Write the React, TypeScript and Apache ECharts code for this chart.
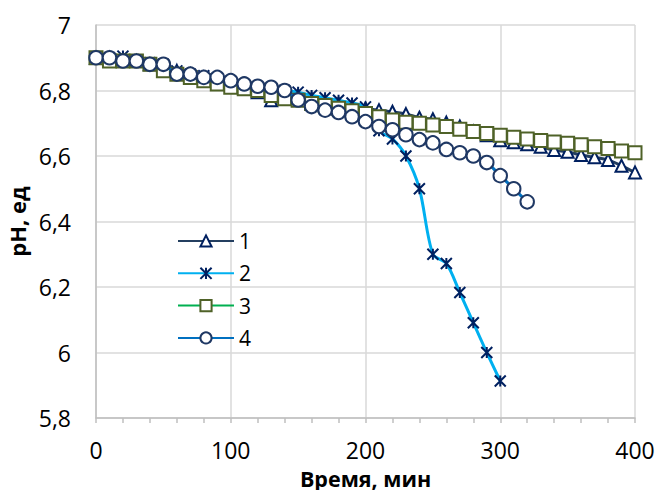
import React, { useEffect, useRef } from "react";
import * as echarts from "echarts";

const seriesNames = ["1", "2", "3", "4"];

const times1 = [0,10,20,30,40,50,60,70,80,90,100,110,120,130,140,150,160,170,180,190,200,210,220,230,240,250,260,270,280,290,300,310,320,330,340,350,360,370,380,390,400];
const ph1 = [6.9,6.9,6.895,6.89,6.88,6.875,6.86,6.85,6.84,6.83,6.82,6.81,6.795,6.77,6.775,6.785,6.775,6.768,6.76,6.752,6.745,6.74,6.735,6.728,6.717,6.712,6.702,6.69,6.675,6.663,6.648,6.642,6.636,6.628,6.618,6.613,6.603,6.596,6.588,6.57,6.55];

const times2 = [0,10,20,30,40,50,60,70,80,90,100,110,120,130,140,150,160,170,180,190,200,210,220,230,240,250,260,270,280,290,300];
const ph2 = [6.9,6.9,6.905,6.89,6.885,6.88,6.86,6.85,6.845,6.835,6.825,6.815,6.805,6.8,6.8,6.795,6.785,6.778,6.77,6.762,6.75,6.677,6.652,6.6,6.5,6.3,6.272,6.183,6.091,6.0,5.913];

const times3 = [0,10,20,30,40,50,60,70,80,90,100,110,120,130,140,150,160,170,180,190,200,210,220,230,240,250,260,270,280,290,300,310,320,330,340,350,360,370,380,390,400];
const ph3 = [6.9,6.89,6.89,6.89,6.88,6.86,6.85,6.84,6.83,6.82,6.81,6.805,6.8,6.785,6.775,6.77,6.76,6.754,6.746,6.738,6.73,6.72,6.71,6.703,6.7,6.695,6.69,6.682,6.675,6.669,6.663,6.657,6.652,6.647,6.643,6.639,6.634,6.628,6.623,6.615,6.61];

const times4 = [0,10,20,30,40,50,60,70,80,90,100,110,120,130,140,150,160,170,180,190,200,210,220,230,240,250,260,270,280,290,300,310,320];
const ph4 = [6.9,6.9,6.89,6.89,6.88,6.88,6.85,6.85,6.84,6.84,6.83,6.82,6.813,6.81,6.8,6.771,6.751,6.74,6.733,6.72,6.705,6.69,6.68,6.665,6.65,6.64,6.62,6.61,6.6,6.58,6.54,6.5,6.46];

const xTicks = { min: 0, max: 400, interval: 100 };
const yTicks = { min: 5.8, max: 7, interval: 0.2 };

const xTitle = "Время, мин";
const yTitle = "pH, ед";

const FONT = "'Open Sans', 'Noto Sans', sans-serif";

function pairs(xs: number[], ys: number[]) {
  return xs.map((x, i) => [x, ys[i]]);
}

export default function App() {
  const ref = useRef<HTMLDivElement>(null);
  useEffect(() => {
    if (!ref.current) return;
    const chart = echarts.init(ref.current, null, { renderer: "svg" });
    const starPath = "path://M0,0L10,10M10,0L0,10M5,0L5,10";
    const option: any = {
      animation: false,
      backgroundColor: "#ffffff",
      grid: { left: 96, right: 22, top: 25, bottom: 72, containLabel: false, outerBoundsMode: "none" },
      graphic: [
        {
          type: "text",
          x: 365.5,
          y: 478,
          style: {
            text: xTitle,
            fontFamily: FONT,
            fontSize: 21.5,
            fontWeight: "bold",
            fill: "#000",
            align: "center",
            verticalAlign: "middle",
          },
        },
      ],
      legend: {
        orient: "vertical",
        left: 172,
        top: 225,
        itemWidth: 56,
        itemHeight: 14,
        itemGap: 10.3,
        data: seriesNames,
        textStyle: { fontFamily: FONT, fontSize: 21, color: "#000", lineHeight: 22 },
      },
      xAxis: {
        type: "value",
        min: xTicks.min,
        max: xTicks.max,
        interval: xTicks.interval,
        axisLine: { show: true, lineStyle: { color: "#BFBFBF", width: 1.5 } },
        axisTick: { show: true, length: 5, lineStyle: { color: "#BFBFBF", width: 1.5 } },
        minorTick: { show: true, splitNumber: 5, length: 5, lineStyle: { color: "#BFBFBF", width: 1.5 } },
        axisLabel: { margin: 20, fontFamily: FONT, fontSize: 23, color: "#000" },
        splitLine: { show: true, lineStyle: { color: "#D9D9D9", width: 1.5 } },
      },
      yAxis: {
        type: "value",
        min: yTicks.min,
        max: yTicks.max,
        interval: yTicks.interval,
        name: yTitle,
        nameLocation: "middle",
        nameGap: 62,
        nameRotate: 90,
        nameTextStyle: { fontFamily: FONT, fontSize: 22, fontWeight: "bold", color: "#000" },
        axisLine: { show: true, lineStyle: { color: "#BFBFBF", width: 1.5 } },
        axisTick: { show: false },
        axisLabel: {
          margin: 25,
          fontFamily: FONT,
          fontSize: 23,
          color: "#000",
          formatter: (v: number) => String(Math.round(v * 10) / 10).replace(".", ","),
        },
        splitLine: { show: true, lineStyle: { color: "#D9D9D9", width: 1.5 } },
      },
      series: [
        {
          name: seriesNames[0],
          type: "line",
          smooth: 0.3,
          data: pairs(times1, ph1),
          symbol: "triangle",
          symbolSize: 12,
          lineStyle: { color: "#243F60", width: 3 },
          itemStyle: { color: "#ffffff", borderColor: "#002060", borderWidth: 2 },
          z: 2,
        },
        {
          name: seriesNames[1],
          type: "line",
          smooth: 0.3,
          data: pairs(times2, ph2),
          symbol: starPath,
          symbolSize: 11,
          lineStyle: { color: "#00B0F0", width: 3 },
          itemStyle: { color: "#002060", borderColor: "#002060", borderWidth: 2 },
          z: 3,
        },
        {
          name: seriesNames[2],
          type: "line",
          smooth: 0.3,
          data: pairs(times3, ph3),
          symbol: "rect",
          symbolSize: 13,
          lineStyle: { color: "#00B050", width: 3 },
          itemStyle: { color: "#ffffff", borderColor: "#4F6228", borderWidth: 2 },
          z: 4,
        },
        {
          name: seriesNames[3],
          type: "line",
          smooth: 0.3,
          data: pairs(times4, ph4),
          symbol: "circle",
          symbolSize: 13.5,
          lineStyle: { color: "#0070C0", width: 3 },
          itemStyle: { color: "#ffffff", borderColor: "#1F3864", borderWidth: 2 },
          z: 5,
        },
      ],
    };
    chart.setOption(option);
    return () => chart.dispose();
  }, []);
  return <div ref={ref} style={{ width: 657, height: 490, position: "absolute", left: 0, top: 0 }} />;
}
